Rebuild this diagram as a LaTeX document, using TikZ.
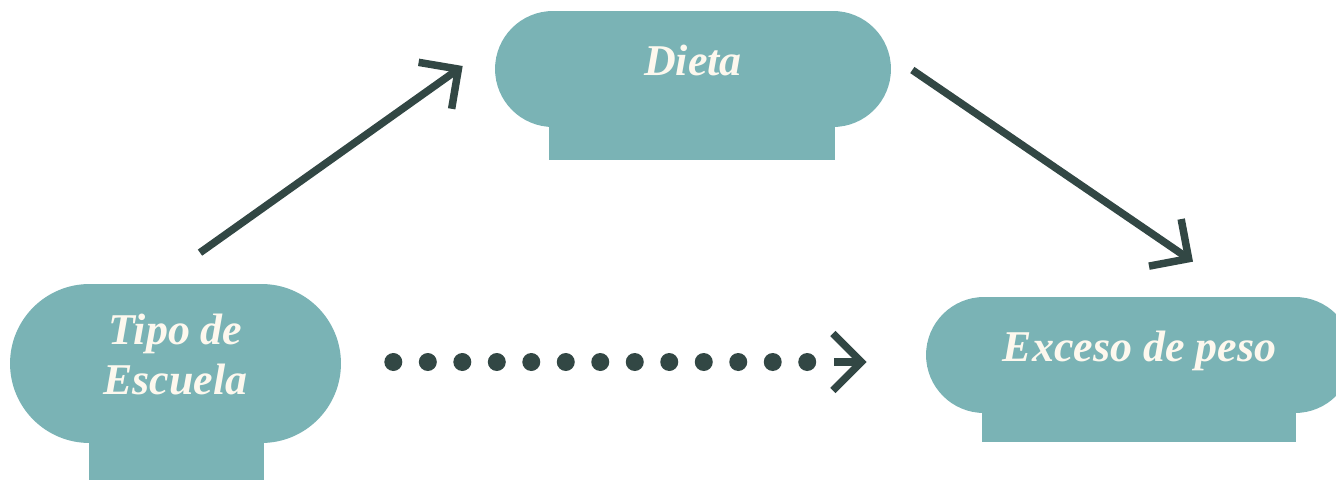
\documentclass[tikz,border=0pt]{standalone}
\usepackage{fontspec}
\setmainfont{Liberation Serif}
\usepackage{xcolor}
\usetikzlibrary{positioning,arrows.meta,calc}
\definecolor{pillteal}{HTML}{7AB3B5}
\definecolor{arrowdark}{HTML}{324744}
\definecolor{labelcream}{HTML}{FDF8EE}

\begin{document}
\begin{tikzpicture}[
  x=0.02cm, y=-0.02cm,
  every node/.style={font=\fontsize{25}{28.5}\selectfont\bfseries\itshape, align=center, text=labelcream},
  pill/.style={fill=pillteal, inner sep=0pt, text depth=1.0em},
  bigpill/.style={pill, rounded corners=1.59cm, minimum height=3.18cm, minimum width=6.62cm},
  smallpill/.style={pill, rounded corners=1.16cm, minimum height=2.32cm},
  base/.style={fill=pillteal},
  arr/.style={-{Straight Barb[length=0.57cm, width=1.14cm]}, line width=0.15cm, draw=arrowdark},
  dotline/.style={line width=0.36cm, line cap=round, dash pattern=on 0pt off 0.69cm, draw=arrowdark}
]
  \useasboundingbox (0,0) rectangle (1336,480);

  \node[bigpill] (tipo) at (175.5,363.5) {Tipo de\\Escuela};
  \node[smallpill, minimum width=7.92cm] (dieta) at (693,69) {Dieta};
  \node[smallpill, minimum width=8.54cm] (exceso) at (1139.5,355) {Exceso de peso};

  % feet under the pills
  \fill[base] ([shift={(79,-1)}]tipo.south west) rectangle ([shift={(-77,37)}]tipo.south east);
  \fill[base] ([shift={(54,-1)}]dieta.south west) rectangle ([shift={(-56,33)}]dieta.south east);
  \fill[base] ([shift={(56,-1)}]exceso.south west) rectangle ([shift={(-57,29)}]exceso.south east);

  \draw[arr] ([shift={(24.5,-31)}]tipo.north) -- ([shift={(-32,-3)}]dieta.west);
  \draw[arr] ([shift={(21,1)}]dieta.east) -- ([shift={(53.5,-35)}]exceso.north);
  \draw[dotline] ([shift={(52,-1.5)}]tipo.east) -- ++(416,0) coordinate (dotsend);
  \draw[arr] ([shift={(25,0)}]dotsend) -- ([shift={(-59,7)}]exceso.west);
\end{tikzpicture}
\end{document}
